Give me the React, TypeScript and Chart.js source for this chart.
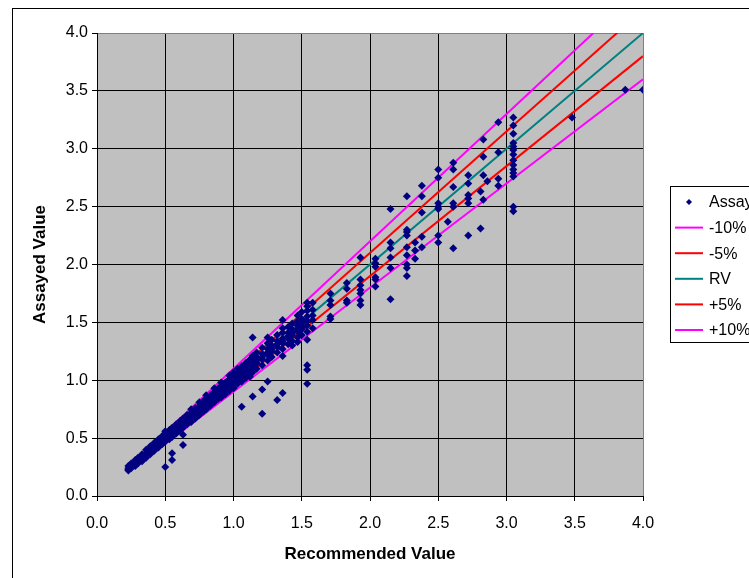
import { useEffect, useRef } from "react";
import { Chart, registerables } from "chart.js";

Chart.register(...registerables);

// Recommended value of each standard (x) and the assayed results reported for it (y)
const rvColumns = [
  0.23, 0.25, 0.28, 0.3, 0.33, 0.36, 0.39, 0.42, 0.45, 0.48,
  0.5, 0.53, 0.55, 0.58, 0.61, 0.63, 0.66, 0.69, 0.72, 0.75,
  0.78, 0.8, 0.83, 0.86, 0.89, 0.91, 0.94, 0.97, 1.0, 1.03,
  1.06, 1.09, 1.12, 1.14, 1.17, 1.21, 1.25, 1.28, 1.32, 1.36,
  1.4, 1.43, 1.47, 1.5, 1.54, 1.58, 1.71, 1.83, 1.93, 2.04,
  2.15, 2.27, 2.33, 2.38, 2.5, 2.57, 2.61, 2.72, 2.81, 2.83,
  2.86, 2.94, 3.05, 3.48, 3.87, 4.0,
];

const assayedByColumn = [
  [0.22, 0.24, 0.26, 0.23],
  [0.24, 0.27, 0.28],
  [0.26, 0.29, 0.31, 0.28],
  [0.28, 0.31, 0.33],
  [0.3, 0.34, 0.36, 0.32],
  [0.33, 0.37, 0.4, 0.36],
  [0.36, 0.4, 0.43, 0.38],
  [0.39, 0.43, 0.46, 0.41],
  [0.42, 0.46, 0.49, 0.44],
  [0.45, 0.49, 0.52, 0.47],
  [0.47, 0.51, 0.54, 0.56, 0.5, 0.25],
  [0.49, 0.54, 0.57, 0.52],
  [0.51, 0.55, 0.59, 0.37, 0.31],
  [0.54, 0.59, 0.62, 0.57],
  [0.57, 0.61, 0.65, 0.6],
  [0.59, 0.63, 0.67, 0.62, 0.53, 0.44],
  [0.62, 0.66, 0.7, 0.65],
  [0.64, 0.68, 0.72, 0.75, 0.7],
  [0.67, 0.72, 0.76, 0.7],
  [0.7, 0.74, 0.78, 0.81, 0.73],
  [0.73, 0.78, 0.82, 0.76],
  [0.75, 0.8, 0.84, 0.87, 0.78],
  [0.78, 0.82, 0.87, 0.84],
  [0.81, 0.85, 0.9, 0.93, 0.87],
  [0.84, 0.88, 0.93, 0.9],
  [0.85, 0.9, 0.95, 0.98, 0.92],
  [0.88, 0.93, 0.98, 0.95],
  [0.91, 0.96, 1.01, 1.04, 0.98, 0.94],
  [0.94, 0.98, 1.03, 1.07, 1.0, 0.93],
  [0.97, 1.01, 1.06, 1.1, 1.03],
  [0.99, 1.04, 1.09, 1.12, 1.06, 0.77],
  [1.02, 1.07, 1.11, 1.15, 1.09],
  [1.05, 1.1, 1.14, 1.18, 1.12, 1.03],
  [1.07, 1.12, 1.17, 1.21, 1.14, 1.37, 0.86],
  [1.1, 1.15, 1.2, 1.24, 1.17],
  [1.13, 1.18, 1.23, 1.28, 1.2, 0.92, 0.71],
  [1.17, 1.22, 1.27, 1.32, 1.24, 1.37, 0.99],
  [1.2, 1.25, 1.3, 1.35, 1.27],
  [1.24, 1.29, 1.34, 1.39, 1.31, 0.83],
  [1.27, 1.32, 1.36, 1.41, 1.45, 1.52, 1.34, 0.89, 1.21],
  [1.31, 1.36, 1.41, 1.46, 1.38],
  [1.34, 1.39, 1.44, 1.49, 1.41, 1.3],
  [1.37, 1.42, 1.47, 1.51, 1.56, 1.44, 1.33],
  [1.39, 1.44, 1.49, 1.53, 1.59, 1.46],
  [1.35, 1.42, 1.47, 1.51, 1.55, 1.6, 1.64, 1.67, 1.13, 1.09, 0.97],
  [1.52, 1.56, 1.61, 1.67, 1.45],
  [1.53, 1.55, 1.65, 1.69, 1.75],
  [1.67, 1.69, 1.79, 1.84],
  [1.65, 1.69, 1.75, 1.78, 1.82, 1.87, 2.06],
  [1.81, 1.87, 1.89, 1.98, 2.01, 2.05],
  [1.7, 1.97, 2.06, 2.14, 2.19, 2.48],
  [1.9, 1.97, 2.0, 2.08, 2.15, 2.25, 2.28, 2.3, 2.59],
  [2.05, 2.12, 2.19],
  [2.15, 2.24, 2.45, 2.59, 2.68],
  [2.19, 2.25, 2.48, 2.5, 2.53, 2.75, 2.82],
  [2.37],
  [2.5, 2.53, 2.67, 2.82, 2.88, 2.14],
  [2.25, 2.53, 2.57, 2.6, 2.7, 2.77],
  [2.31, 2.63],
  [2.56, 2.77, 2.93, 3.08],
  [2.72],
  [2.68, 2.74, 2.97, 3.23],
  [2.46, 2.5, 2.76, 2.79, 2.82, 2.86, 2.9, 2.95, 2.99, 3.02, 3.05, 3.13, 3.2, 3.27],
  [3.27],
  [3.51],
  [3.51],
];

// Reference lines: end points (recommended value, limit)
const lineX = [0.23, 4.0];
const minus10Y = [0.207, 3.6];
const minus5Y = [0.2185, 3.8];
const rvY = [0.23, 4.0];
const plus5Y = [0.2415, 4.2];
const plus10Y = [0.253, 4.4];

const seriesLabels = ["Assayed", "-10%", "-5%", "RV", "+5%", "+10%"];
const seriesColors = ["#000080", "#FF00FF", "#FF0000", "#008080", "#FF0000", "#FF00FF"];

const axisMin = 0;
const axisMax = 4;
const axisStep = 0.5;

const FONT = '"Liberation Sans", Arial, sans-serif';

const framePlugin = {
  id: "framePlugin",
  beforeDraw(chart: any) {
    const { ctx, chartArea } = chart;
    ctx.save();
    ctx.fillStyle = "#ffffff";
    ctx.fillRect(0, 0, chart.width, chart.height);
    ctx.strokeStyle = "#000000";
    ctx.lineWidth = 1;
    ctx.strokeRect(12.5, 8.5, 900, 700);
    ctx.fillStyle = "#c0c0c0";
    ctx.fillRect(chartArea.left, chartArea.top, chartArea.right - chartArea.left, chartArea.bottom - chartArea.top);
    ctx.restore();
  },
};

const legendPlugin = {
  id: "boxLegend",
  afterDraw(chart: any) {
    const { ctx } = chart;
    const boxX = 670.5;
    const boxY = 186.5;
    const rowH = 25.6;
    ctx.save();
    ctx.fillStyle = "#ffffff";
    ctx.fillRect(boxX, boxY, 200, 156);
    ctx.strokeStyle = "#000000";
    ctx.lineWidth = 1;
    ctx.strokeRect(boxX, boxY, 200, 156);
    ctx.font = `16px ${FONT}`;
    ctx.textBaseline = "middle";
    ctx.textAlign = "left";
    chart.data.datasets.forEach((ds: any, i: number) => {
      const y = 202 + i * rowH;
      if (i === 0) {
        ctx.fillStyle = ds.backgroundColor;
        ctx.beginPath();
        ctx.moveTo(689, y - 3);
        ctx.lineTo(692, y);
        ctx.lineTo(689, y + 3);
        ctx.lineTo(686, y);
        ctx.closePath();
        ctx.fill();
      } else {
        ctx.strokeStyle = ds.borderColor;
        ctx.lineWidth = 2;
        ctx.beginPath();
        ctx.moveTo(675, y);
        ctx.lineTo(703, y);
        ctx.stroke();
      }
      ctx.fillStyle = "#000000";
      ctx.fillText(ds.label, 709, y + 1);
    });
    ctx.restore();
  },
};

function linePoints(ys: number[]) {
  return lineX.map((x, i) => ({ x, y: ys[i] }));
}

export default function App() {
  const canvasRef = useRef<HTMLCanvasElement | null>(null);

  useEffect(() => {
    if (!canvasRef.current) return;
    const points: { x: number; y: number }[] = [];
    rvColumns.forEach((x, i) => {
      assayedByColumn[i].forEach((y) => points.push({ x, y }));
    });

    const lineSets = [minus10Y, minus5Y, rvY, plus5Y, plus10Y].map((ys, i) => ({
      type: "line" as const,
      label: seriesLabels[i + 1],
      data: linePoints(ys),
      borderColor: seriesColors[i + 1],
      backgroundColor: seriesColors[i + 1],
      borderWidth: 2,
      pointRadius: 0,
      showLine: true,
      fill: false,
      tension: 0,
    }));

    const gridColor = (ctx: any) =>
      ctx.tick && ctx.tick.value === axisMax ? "#808080" : "#000000";

    const tickFont = { family: FONT, size: 16 };
    const titleFont = { family: FONT, size: 17, weight: "bold" as const };

    const chart = new Chart(canvasRef.current, {
      type: "scatter",
      data: {
        datasets: [
          {
            label: seriesLabels[0],
            data: points,
            backgroundColor: seriesColors[0],
            borderColor: seriesColors[0],
            pointStyle: "rectRot",
            pointRadius: 4,
            borderWidth: 0,
          } as any,
          ...lineSets,
        ],
      },
      options: {
        responsive: false,
        animation: false,
        layout: { padding: { top: 33, right: 106, left: 0, bottom: 0 } },
        plugins: {
          legend: { display: false },
          tooltip: { enabled: false },
        },
        scales: {
          x: {
            type: "linear",
            min: axisMin,
            max: axisMax,
            afterFit: (s: any) => {
              s.height = 82;
            },
            ticks: {
              stepSize: axisStep,
              autoSkip: false,
              maxRotation: 0,
              padding: 13,
              color: "#000000",
              font: tickFont,
              callback: (v: any) => Number(v).toFixed(1),
            },
            grid: { color: gridColor, lineWidth: 1, tickLength: 5, tickColor: "#000000" },
            border: { color: "#000000", width: 1 },
            title: {
              display: true,
              text: "Recommended Value",
              color: "#000000",
              font: titleFont,
              padding: { top: 0, bottom: 13 },
            },
          },
          y: {
            type: "linear",
            min: axisMin,
            max: axisMax,
            afterFit: (s: any) => {
              s.width = 97;
            },
            ticks: {
              stepSize: axisStep,
              autoSkip: false,
              padding: 4,
              color: "#000000",
              font: tickFont,
              callback: (v: any) => Number(v).toFixed(1),
            },
            grid: { color: gridColor, lineWidth: 1, tickLength: 5, tickColor: "#000000" },
            border: { color: "#000000", width: 1 },
            title: {
              display: true,
              text: "Assayed Value",
              color: "#000000",
              font: titleFont,
              padding: { top: 30, bottom: 0 },
            },
          },
        },
      },
      plugins: [framePlugin, legendPlugin],
    });

    return () => chart.destroy();
  }, []);

  return (
    <div style={{ position: "absolute", left: 0, top: 0, width: 749, height: 578 }}>
      <canvas ref={canvasRef} width={749} height={578} style={{ display: "block" }} />
    </div>
  );
}
